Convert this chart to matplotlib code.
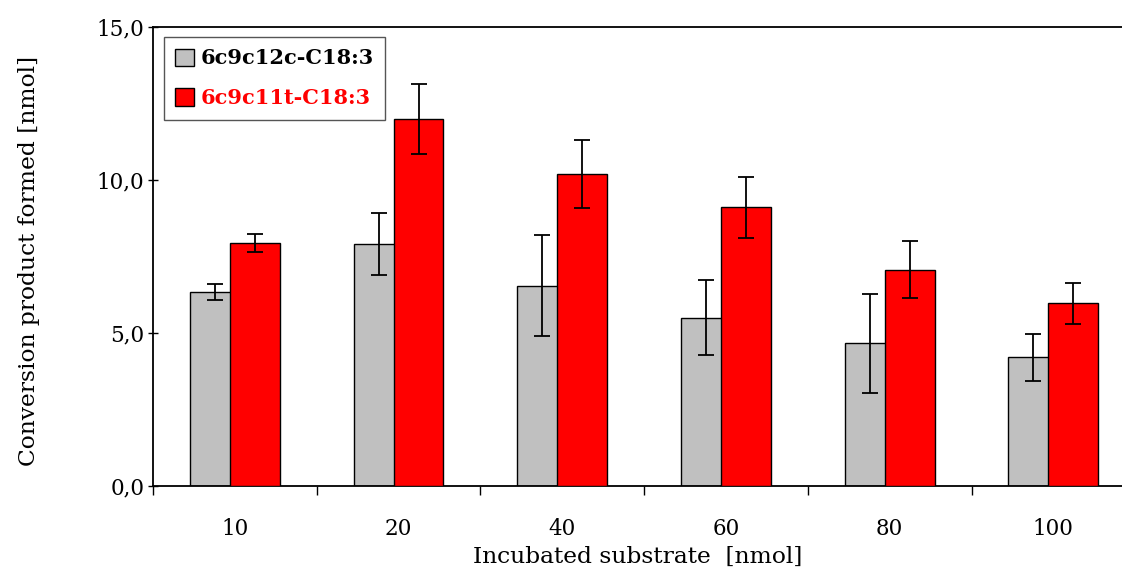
import numpy as np
from matplotlib import pyplot as plt
from matplotlib.ticker import FixedLocator

plt.rcParams['font.family'] = 'DejaVu Serif'

# data
substrate = ['10', '20', '40', '60', '80', '100']
cis_mean = [6.34, 7.91, 6.54, 5.50, 4.66, 4.20]
cis_err = [0.27, 1.00, 1.65, 1.23, 1.62, 0.76]
trans_mean = [7.95, 11.99, 10.20, 9.11, 7.07, 5.97]
trans_err = [0.29, 1.15, 1.10, 1.00, 0.94, 0.68]
labels = ['6c9c12c-C18:3', '6c9c11t-C18:3']
yticks = [0, 5, 10, 15]
ytick_labels = ['0,0', '5,0', '10,0', '15,0']

W, H = 1122, 567
fig = plt.figure(figsize=(W/100, H/100), dpi=100)
ax = fig.add_axes([153/W, 1 - 486/H, (W - 153)/W, (486 - 27)/H])

x = np.arange(len(substrate))
bw = 0.305
off = 0.122
ekw = dict(ecolor='k', elinewidth=1.3, capsize=5.8, capthick=1.3)
ax.bar(x - off, cis_mean, bw, yerr=cis_err, color='#c0c0c0', edgecolor='k',
       linewidth=1.0, label=labels[0], error_kw=ekw, zorder=2)
ax.bar(x + off, trans_mean, bw, yerr=trans_err, color='#ff0000', edgecolor='k',
       linewidth=1.0, label=labels[1], error_kw=ekw, zorder=3)

ax.set_xlim(-0.5, -0.5 + (W - 153) / 163.7)
ax.set_ylim(0, 15)

ax.set_xticks(x)
ax.set_xticklabels(substrate, fontsize=15.5)
ax.xaxis.set_minor_locator(FixedLocator(np.arange(len(substrate) + 1) - 0.5))
ax.tick_params(axis='x', which='major', length=0, pad=23)
ax.tick_params(axis='x', which='minor', length=6.5, width=1.0, direction='out')

ax.set_yticks(yticks)
ax.set_yticklabels(ytick_labels, fontsize=15.5)
ax.tick_params(axis='y', length=6.5, width=1.0, direction='inout', pad=3)

ax.spines['right'].set_visible(False)
for s in ['left', 'bottom', 'top']:
  ax.spines[s].set_linewidth(1.3)

ax.set_xlabel('Incubated substrate  [nmol]', fontsize=16.8)
ax.xaxis.set_label_coords(0.5, -60/459, transform=ax.transAxes)
ax.set_ylabel('Conversion product formed [nmol]', fontsize=16.8)
ax.yaxis.set_label_coords(-113/(W - 153), 0.49)

leg = ax.legend(loc='upper left', bbox_to_anchor=(11/(W - 153), 1 - 10/459),
                borderaxespad=0, fancybox=False, framealpha=1, edgecolor='#555555',
                prop=dict(size=15, weight='bold'), handlelength=0.9, handleheight=0.9,
                handletextpad=0.3, labelspacing=0.95, borderpad=0.55)
leg.get_frame().set_linewidth(1.0)
leg.get_texts()[1].set_color('#ff0000')

fig.savefig('out.png', dpi=100)
